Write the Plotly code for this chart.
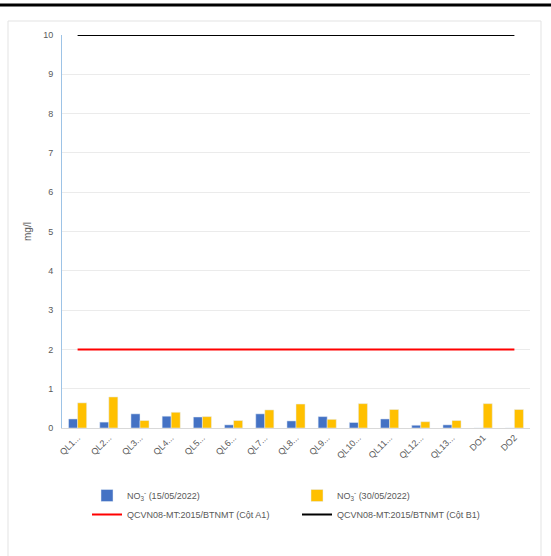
import plotly.graph_objects as go

# Sampling sites
sites = ["QL1...", "QL2...", "QL3...", "QL4...", "QL5...", "QL6...", "QL7...",
         "QL8...", "QL9...", "QL10...", "QL11...", "QL12...", "QL13...", "DO1", "DO2"]

# Nitrate concentrations (mg/l)
no3_15_05 = [0.23, 0.15, 0.36, 0.30, 0.28, 0.08, 0.36, 0.18, 0.29, 0.14, 0.23, 0.07, 0.08, 0, 0]
no3_30_05 = [0.64, 0.79, 0.19, 0.40, 0.29, 0.19, 0.46, 0.61, 0.22, 0.62, 0.47, 0.16, 0.19, 0.62, 0.47]

# Regulatory limits (QCVN08-MT:2015/BTNMT)
limit_a1 = 2
limit_b1 = 10

y_ticks = list(range(0, 11))

TEXT = "#595959"

fig = go.Figure()
fig.add_bar(x=sites, y=no3_15_05, name="NO<sub>3</sub><sup>-</sup> (15/05/2022)",
            marker_color="#4472C4")
fig.add_bar(x=sites, y=no3_30_05, name="NO<sub>3</sub><sup>-</sup> (30/05/2022)",
            marker_color="#FFC000")
fig.add_scatter(x=sites, y=[limit_a1] * len(sites), mode="lines",
                name="QCVN08-MT:2015/BTNMT (Cột A1)",
                line=dict(color="#FF0000", width=2))
fig.add_scatter(x=sites, y=[limit_b1] * len(sites), mode="lines",
                name="QCVN08-MT:2015/BTNMT (Cột B1)",
                line=dict(color="#000000", width=2))

L, R, T, B = 62, 21, 35, 128
W, H = 551, 556
pw, ph = W - L - R, H - T - B


def px_x(x):
    return (x - L) / pw


def px_y(y):
    return (H - B - y) / ph


fig.update_layout(
    width=W, height=H,
    margin=dict(l=L, r=R, t=T, b=B, autoexpand=False),
    paper_bgcolor="white", plot_bgcolor="white",
    font=dict(family="Liberation Sans, Arial, sans-serif", size=9, color=TEXT),
    barmode="group", bargap=0.42, bargroupgap=0,
    showlegend=True,
    legend=dict(orientation="h", x=px_x(87), y=px_y(481), xanchor="left", yanchor="top",
                entrywidth=165, font=dict(size=9, color=TEXT), traceorder="normal"),
    xaxis=dict(showgrid=False, showline=True, linecolor="#D9D9D9", linewidth=1,
               tickangle=-45, ticks="", tickfont=dict(size=9, color=TEXT)),
    yaxis=dict(range=[0, 10], tickvals=y_ticks, showgrid=True, gridcolor="#EBEBEB",
               zeroline=False, showline=True, linecolor="#9DC3E6", linewidth=1,
               ticks="", ticklabelstandoff=6, tickfont=dict(size=9, color=TEXT),
               title=dict(text="mg/l", font=dict(size=10, color=TEXT), standoff=9)),
    shapes=[
        # chart frame
        dict(type="rect", xref="paper", yref="paper",
             x0=px_x(8), x1=px_x(541), y0=px_y(575), y1=px_y(21),
             line=dict(color="#E3E3E3", width=1), layer="below"),
        # page rule above the chart
        dict(type="line", xref="paper", yref="paper",
             x0=px_x(0), x1=px_x(551), y0=px_y(5), y1=px_y(5),
             line=dict(color="#000000", width=3)),
    ],
)

fig.write_html("out.html")
